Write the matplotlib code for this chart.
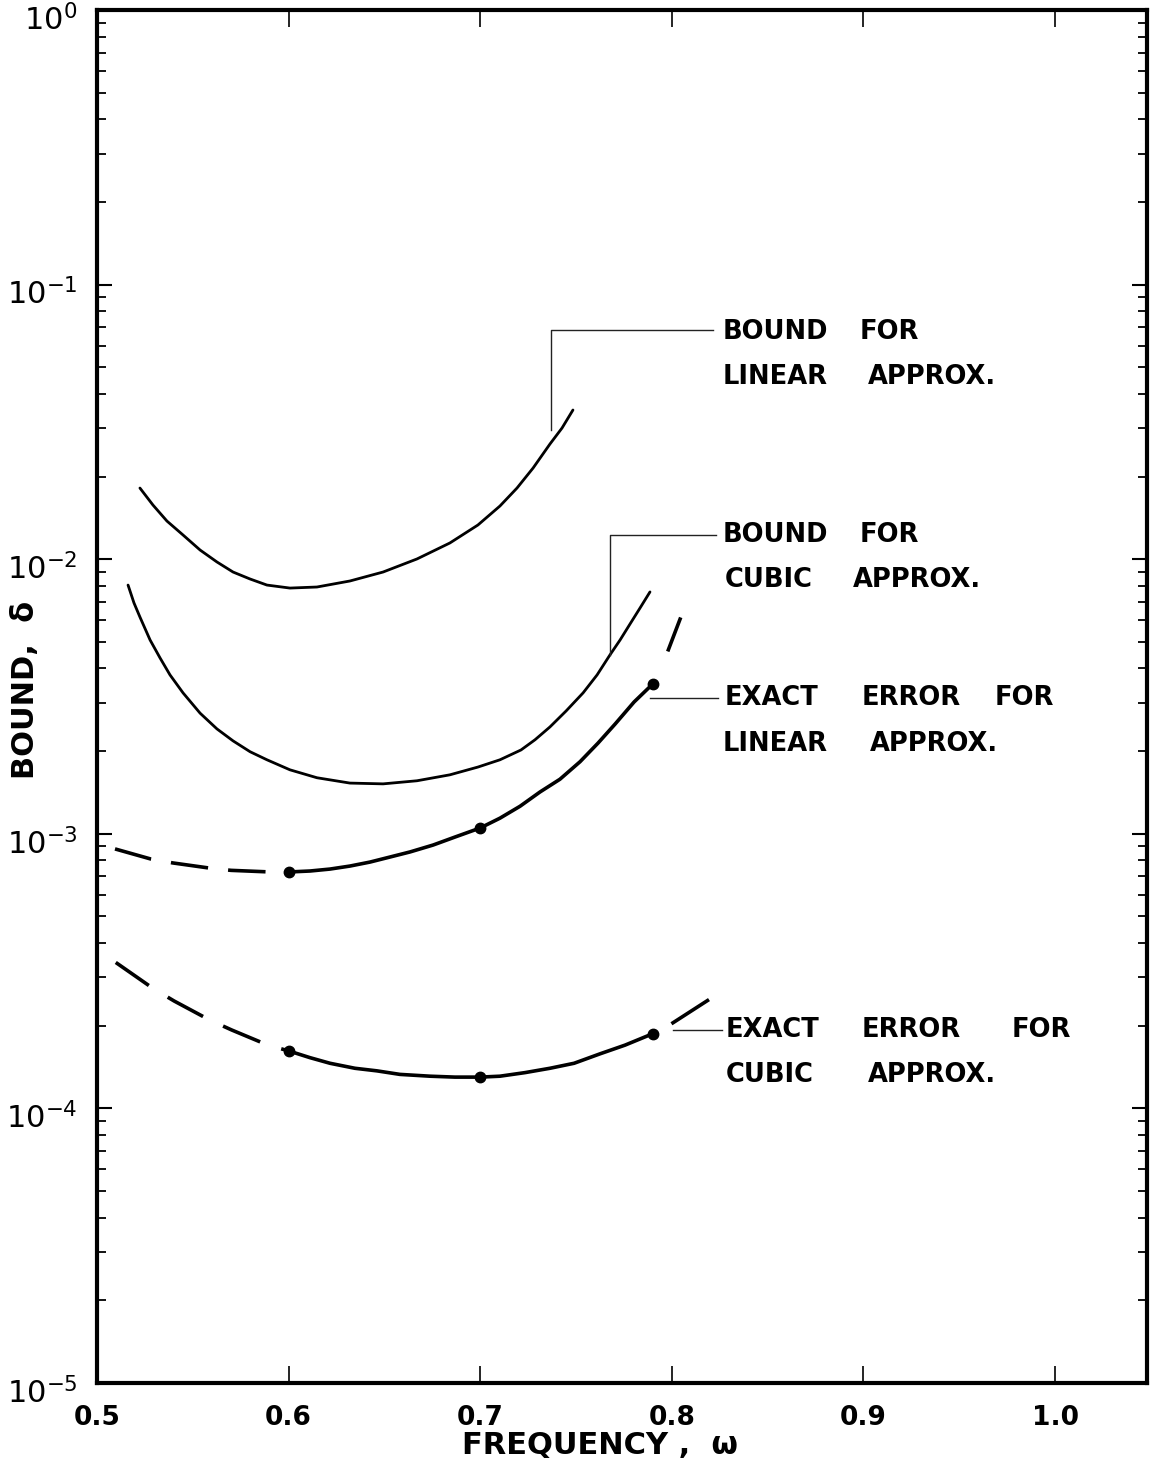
import matplotlib
matplotlib.use("Agg")
import matplotlib.pyplot as plt
import matplotlib.transforms as mtransforms
from matplotlib.ticker import LogLocator, FixedLocator, NullLocator, NullFormatter

# ---------------- data ----------------
bound_lin_w = [0.5224, 0.5292, 0.5365, 0.5449, 0.5538, 0.5626, 0.5710, 0.5799,
               0.5887, 0.6007, 0.6148, 0.6320, 0.6493, 0.6670, 0.6842, 0.6988,
               0.7103, 0.7192, 0.7276, 0.7364, 0.7427, 0.7484]
bound_lin_d = [0.01816, 0.01575, 0.01377, 0.01225, 0.01080, 0.00977, 0.00898,
               0.00847, 0.00805, 0.00785, 0.00792, 0.00833, 0.00898, 0.01002,
               0.01146, 0.01332, 0.01562, 0.01816, 0.02148, 0.02627, 0.03004,
               0.03494]

bound_cub_w = [0.5162, 0.5193, 0.5224, 0.5277, 0.5329, 0.5381, 0.5449, 0.5538,
               0.5626, 0.5710, 0.5799, 0.5887, 0.6007, 0.6148, 0.6320, 0.6493,
               0.6670, 0.6842, 0.6988, 0.7103, 0.7213, 0.7286, 0.7364, 0.7448,
               0.7537, 0.7610, 0.7677, 0.7730, 0.7782, 0.7834, 0.7886]
bound_cub_d = [0.00805, 0.00693, 0.00616, 0.00508, 0.00437, 0.00379, 0.00326,
               0.00275, 0.00241, 0.00218, 0.00199, 0.00186, 0.00171, 0.00160,
               0.00153, 0.00152, 0.00156, 0.00164, 0.00175, 0.00186, 0.00202,
               0.00220, 0.00245, 0.00280, 0.00326, 0.00379, 0.00448, 0.00508,
               0.00581, 0.00664, 0.00760]

# exact error, linear approximation
exlin_dash_w = [0.5094, 0.5282, 0.5397, 0.5600, 0.5700, 0.5887, 0.6000]
exlin_dash_d = [0.000881, 0.000809, 0.000783, 0.000748, 0.000736, 0.000727, 0.000726]
exlin_w = [0.6000, 0.6112, 0.6216, 0.6320, 0.6425, 0.6529, 0.6634, 0.6754,
           0.6868, 0.7000, 0.7103, 0.7208, 0.7312, 0.7416, 0.7521, 0.7615,
           0.7704, 0.7803, 0.7900]
exlin_d = [0.000726, 0.000732, 0.000744, 0.000763, 0.000789, 0.000823, 0.000859,
           0.000910, 0.000973, 0.00105, 0.00114, 0.00126, 0.00142, 0.00158,
           0.00183, 0.00214, 0.00251, 0.00302, 0.00351]
exlin_ext_w = [0.7982, 0.8043]
exlin_ext_d = [0.00468, 0.00605]
exlin_pts_w = [0.6, 0.7, 0.79]
exlin_pts_d = [0.000726, 0.00105, 0.00351]

# exact error, cubic approximation
excub_dash_w = [0.5098, 0.5294, 0.5403, 0.5587, 0.5703, 0.5892, 0.6000]
excub_dash_d = [0.000340, 0.000273, 0.000246, 0.000210, 0.000193, 0.000170, 0.000162]
excub_w = [0.6000, 0.6112, 0.6216, 0.6346, 0.6461, 0.6581, 0.6738, 0.6868,
           0.7000, 0.7103, 0.7234, 0.7364, 0.7490, 0.7625, 0.7756, 0.7900]
excub_d = [0.000162, 0.000153, 0.000146, 0.000140, 0.000137, 0.000133, 0.000131,
           0.000130, 0.000130, 0.000131, 0.000135, 0.000140, 0.000146, 0.000158,
           0.000170, 0.000187]
excub_ext_w = [0.8006, 0.8186]
excub_ext_d = [0.000205, 0.000247]
excub_pts_w = [0.6, 0.7, 0.79]
excub_pts_d = [0.000162, 0.000130, 0.000187]

x_ticks = [0.5, 0.6, 0.7, 0.8, 0.9, 1.0]
x_ticklabels = ["0.5", "0.6", "0.7", "0.8", "0.9", "1.0"]

xlabel = "FREQUENCY ,  ω"
ylabel = "BOUND,  δ"

# label words: (line y px, [(word, left x px), ...])
labels = [
    (332, [("BOUND", 723), ("FOR", 860)]),
    (377, [("LINEAR", 723), ("APPROX.", 868)]),
    (535, [("BOUND", 723), ("FOR", 860)]),
    (580, [("CUBIC", 725), ("APPROX.", 853)]),
    (698, [("EXACT", 725), ("ERROR", 862), ("FOR", 995)]),
    (744, [("LINEAR", 723), ("APPROX.", 870)]),
    (1030, [("EXACT", 726), ("ERROR", 862), ("FOR", 1012)]),
    (1075, [("CUBIC", 726), ("APPROX.", 868)]),
]
leaders = [
    [(551, 430), (551, 330), (713, 330)],
    [(610, 655), (610, 535), (716, 535)],
    [(650, 698), (718, 698)],
    [(673, 1030), (722, 1030)],
]

# ---------------- figure ----------------
W, H = 1152, 1473
plt.rcParams["font.family"] = ["DejaVu Sans"]
plt.rcParams["lines.scale_dashes"] = False
fig = plt.figure(figsize=(W / 100, H / 100), dpi=100)
L, R, T, B = 97, 1147, 10, 1383
ax = fig.add_axes([L / W, 1 - B / H, (R - L) / W, (B - T) / H])

ax.set_yscale("log")
ax.set_xlim(0.5, 1.048)
ax.set_ylim(1e-5, 1e0)

k = "black"
ax.plot(bound_lin_w, bound_lin_d, color=k, lw=2.0, solid_capstyle="round",
        solid_joinstyle="round")
ax.plot(bound_cub_w, bound_cub_d, color=k, lw=2.0, solid_capstyle="round",
        solid_joinstyle="round")

ax.plot(exlin_dash_w, exlin_dash_d, color=k, lw=2.6, linestyle=(0, (27, 14.5)))
ax.plot(exlin_w, exlin_d, color=k, lw=2.6, solid_joinstyle="round")
ax.plot(exlin_ext_w, exlin_ext_d, color=k, lw=2.6)
ax.plot(exlin_pts_w, exlin_pts_d, "o", color=k, ms=7.5)

ax.plot(excub_dash_w, excub_dash_d, color=k, lw=2.6, linestyle=(0, (29, 16)))
ax.plot(excub_w, excub_d, color=k, lw=2.6, solid_joinstyle="round")
ax.plot(excub_ext_w, excub_ext_d, color=k, lw=2.6)
ax.plot(excub_pts_w, excub_pts_d, "o", color=k, ms=7.5)

# ticks
ax.xaxis.set_major_locator(FixedLocator(x_ticks))
ax.set_xticklabels(x_ticklabels)
ax.xaxis.set_minor_locator(NullLocator())
ax.yaxis.set_major_locator(LogLocator(base=10, numticks=10))
ax.yaxis.set_minor_locator(LogLocator(base=10, subs=range(2, 10), numticks=20))
ax.yaxis.set_minor_formatter(NullFormatter())
ax.tick_params(axis="x", which="major", direction="in", top=True, length=12,
               width=1.2, pad=16, labelsize=19)
ax.tick_params(axis="y", which="major", direction="in", right=True, length=11,
               width=1.5, pad=14, labelsize=22)
ax.tick_params(axis="y", which="minor", direction="in", right=True, length=6.5,
               width=1.3)
for lab in ax.get_xticklabels():
    lab.set_fontweight("bold")
shift = mtransforms.ScaledTranslation(0, -7 / 100, fig.dpi_scale_trans)
for lab in ax.get_yticklabels():
    lab.set_transform(lab.get_transform() + shift)
for s in ax.spines.values():
    s.set_linewidth(3.0)

# axis titles
fig.text(600 / W, 1 - 1446 / H, xlabel, ha="center", va="center",
         fontsize=22, fontweight="bold")
fig.text(26 / W, 1 - 690 / H, ylabel, ha="center", va="center",
         rotation=90, fontsize=22, fontweight="bold")

# annotations
for y, words in labels:
    for w, x in words:
        fig.text(x / W, 1 - y / H, w, ha="left", va="center",
                 fontsize=18.5, fontweight="bold")
for pts in leaders:
    xs = [p[0] / W for p in pts]
    ys = [1 - p[1] / H for p in pts]
    ax.plot(xs, ys, color="#222222", lw=1.0, transform=fig.transFigure,
            clip_on=False)

fig.savefig("out.png", dpi=100, facecolor="white")
